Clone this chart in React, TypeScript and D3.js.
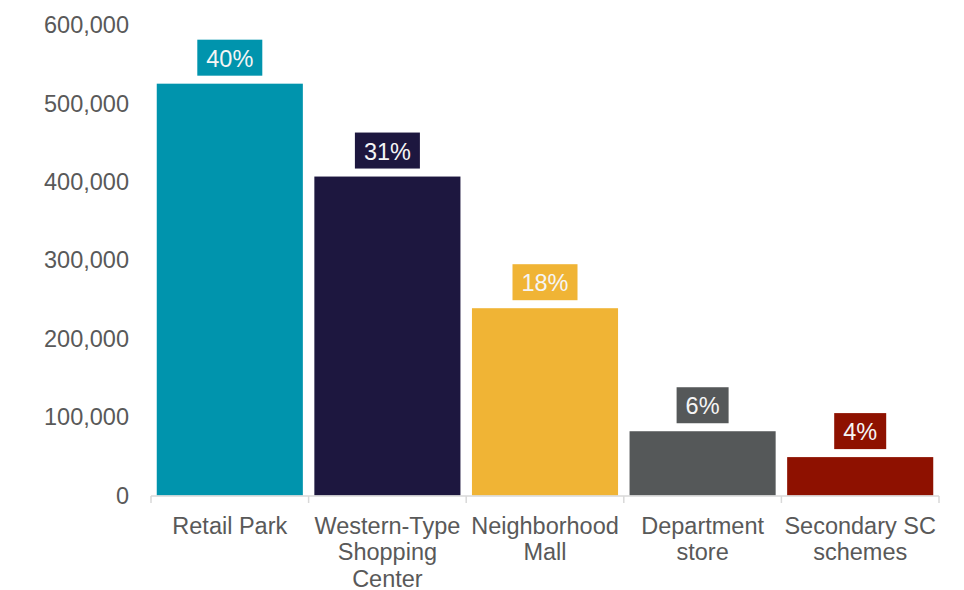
import React from "react";
import * as d3 from "d3";

const categories: string[][] = [
  ["Retail Park"],
  ["Western-Type", "Shopping", "Center"],
  ["Neighborhood", "Mall"],
  ["Department", "store"],
  ["Secondary SC", "schemes"],
];
const values = [525500, 407000, 239000, 82000, 49000];
const shares = ["40%", "31%", "18%", "6%", "4%"];
const colors = ["#0094AD", "#1D173F", "#F0B435", "#555859", "#8E1100"];
const yTicks = [0, 100000, 200000, 300000, 400000, 500000, 600000];

const W = 964;
const H = 590;
const FONT = "Liberation Sans, Arial, sans-serif";
const FS = 23.5;

export default function App() {
  const x0 = 151;
  const x1 = 939;
  const pad = 0.073;
  const keys = categories.map((c) => c.join(" "));
  const x = d3.scaleBand<string>().domain(keys).range([x0, x1]).paddingInner(pad).paddingOuter(pad / 2);
  const y = d3.scaleLinear().domain([0, 600000]).range([495.5, 25.3]);
  const step = x.step();
  const fmt = d3.format(",");
  const tickXs = keys.map((k) => (x(k) as number) - (step * pad) / 2).concat([x1]);

  return (
    <svg width={W} height={H} style={{ position: "absolute", left: 0, top: 0, background: "#fff" }}>
      <g fontFamily={FONT} fontSize={FS} fill="#595959">
        {yTicks.map((t) => (
          <text key={t} x={129} y={y(t)} textAnchor="end" dominantBaseline="central">
            {fmt(t)}
          </text>
        ))}
      </g>
      {keys.map((k, i) => {
        const bx = x(k) as number;
        const bw = x.bandwidth();
        const top = y(values[i]);
        const cx = bx + bw / 2;
        const tw = shares[i].length === 3 ? 65 : 52;
        const bh = 36;
        const boxBottom = top - 8;
        return (
          <g key={k}>
            <rect x={bx} y={top} width={bw} height={y(0) - top} fill={colors[i]} />
            <rect x={cx - tw / 2} y={boxBottom - bh} width={tw} height={bh} fill={colors[i]} />
            <text
              x={cx}
              y={boxBottom - bh / 2 + 1}
              textAnchor="middle"
              dominantBaseline="central"
              fontFamily={FONT}
              fontSize={FS}
              fill="#F5F5F5"
            >
              {shares[i]}
            </text>
            {categories[i].map((line, j) => (
              <text
                key={j}
                x={cx}
                y={533.8 + j * 26.4}
                textAnchor="middle"
                fontFamily={FONT}
                fontSize={FS}
                fill="#595959"
              >
                {line}
              </text>
            ))}
          </g>
        );
      })}
      <line x1={x0} x2={x1} y1={496} y2={496} stroke="#D9D9D9" strokeWidth={1.5} />
      {tickXs.map((tx, i) => (
        <line key={i} x1={tx} x2={tx} y1={496} y2={503} stroke="#D9D9D9" strokeWidth={1.5} />
      ))}
    </svg>
  );
}
